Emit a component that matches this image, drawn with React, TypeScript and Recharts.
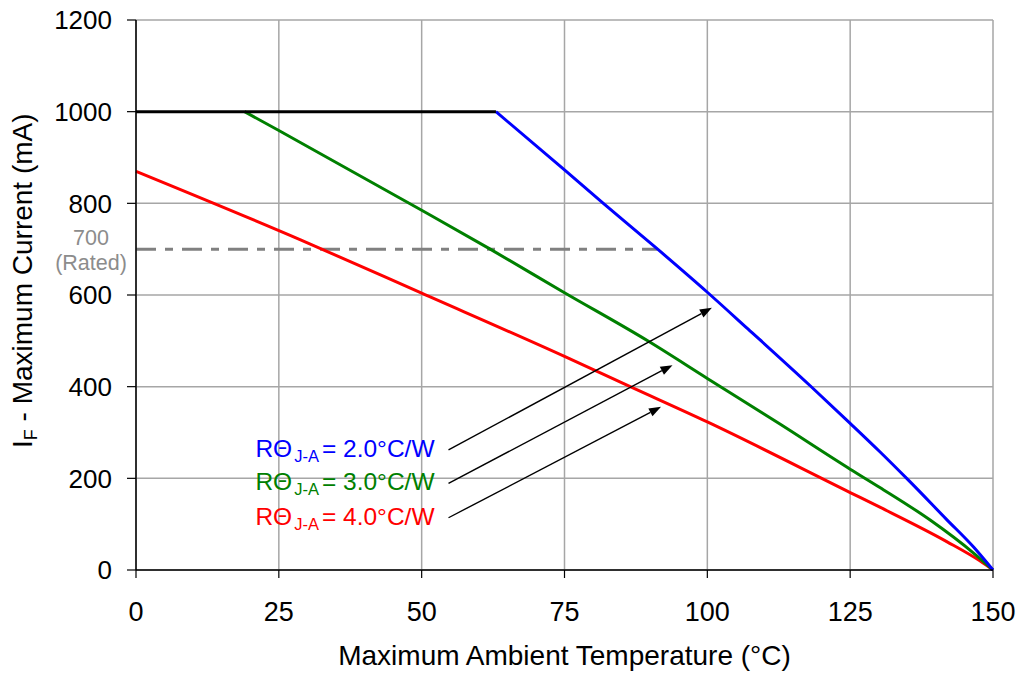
import React from "react"
import { LineChart, Line, XAxis, YAxis, CartesianGrid, ReferenceLine } from "recharts"

const xTicks = [0, 25, 50, 75, 100, 125, 150]
const yTicks = [0, 200, 400, 600, 800, 1000, 1200]

// derating curves
const flatPart = [
  { t: 0, i: 1000 },
  { t: 63, i: 1000 },
]
const rth20 = [
  { t: 63, i: 1000 },
  { t: 75, i: 873 },
  { t: 81.8, i: 800 },
  { t: 91.3, i: 700 },
  { t: 100, i: 606 },
  { t: 107.1, i: 526 },
  { t: 118, i: 402 },
  { t: 125, i: 320 },
  { t: 130.2, i: 258 },
  { t: 135.2, i: 196 },
  { t: 141.9, i: 110 },
  { t: 146.6, i: 50 },
  { t: 150, i: 0 },
]
const rth30 = [
  { t: 19, i: 1000 },
  { t: 25, i: 959 },
  { t: 50, i: 785 },
  { t: 62, i: 700 },
  { t: 75, i: 605 },
  { t: 89.7, i: 499 },
  { t: 100, i: 418 },
  { t: 112.5, i: 320 },
  { t: 125, i: 220 },
  { t: 130.2, i: 180 },
  { t: 139, i: 109 },
  { t: 146.6, i: 37 },
  { t: 150, i: 0 },
]
const rth40 = [
  { t: 0, i: 870 },
  { t: 28.7, i: 721 },
  { t: 50, i: 604 },
  { t: 75, i: 466 },
  { t: 86.5, i: 400 },
  { t: 100, i: 323 },
  { t: 125, i: 169 },
  { t: 130.2, i: 137 },
  { t: 141.9, i: 62 },
  { t: 147.7, i: 20 },
  { t: 150, i: 0 },
]
const rated = 700
const ratedEnd = 91.3

const labels = [
  { value: "2.0°C/W", color: "#0000ff", from: [54.7, 262], to: [100.8, 572] },
  { value: "3.0°C/W", color: "#008000", from: [54.7, 189], to: [93.9, 447] },
  { value: "4.0°C/W", color: "#ff0000", from: [54.7, 114], to: [91.9, 356] },
]

const FONT = "'Liberation Sans', Arial, sans-serif"

function arrowShape(text: string, color: string) {
  return (props: any) => {
    const { x1, y1, x2, y2 } = props
    const ang = Math.atan2(y2 - y1, x2 - x1)
    const len = 12
    const w = 4.5
    const bx = x2 - len * Math.cos(ang)
    const by = y2 - len * Math.sin(ang)
    const px = -Math.sin(ang) * w
    const py = Math.cos(ang) * w
    return (
      <g>
        <line x1={x1} y1={y1} x2={bx} y2={by} stroke="#000" strokeWidth={1.4} />
        <polygon points={`${x2},${y2} ${bx + px},${by + py} ${bx - px},${by - py}`} fill="#000" />
        <text x={x1 - 14} y={y1 + 7} textAnchor="end" fill={color} fontSize={24.5} fontFamily={FONT}>
          <tspan>RΘ</tspan>
          <tspan fontSize={16.5} dx={2} dy={5}>J-A</tspan>
          <tspan dx={3} dy={-5}>= {text}</tspan>
        </text>
      </g>
    )
  }
}

const RatedLabel = (props: any) => {
  const { viewBox } = props
  const x = viewBox.x - 45
  return (
    <text textAnchor="middle" fill="#8c8c8c" fontSize={21.5} fontFamily={FONT}>
      <tspan x={x} y={viewBox.y - 4}>700</tspan>
      <tspan x={x} y={viewBox.y + 20.5}>(Rated)</tspan>
    </text>
  )
}

export default function App() {
  return (
    <div style={{ position: "absolute", left: 0, top: 0, background: "#fff" }}>
      <LineChart width={1020} height={673} margin={{ top: 20, right: 27, bottom: 63, left: 66 }}>
        <CartesianGrid stroke="#a6a6a6" strokeWidth={1.5} />
        <XAxis
          type="number"
          dataKey="t"
          domain={[0, 150]}
          ticks={xTicks}
          height={40}
          axisLine={{ stroke: "#000", strokeWidth: 1.5 }}
          tickLine={{ stroke: "#000", strokeWidth: 1.2 }}
          tickSize={8}
          tick={{ fill: "#000", fontSize: 27, fontFamily: FONT, dy: 22 }}
          label={(p: any) => (
            <text x={p.viewBox.x + p.viewBox.width / 2} y={665} textAnchor="middle" fill="#000" fontSize={28} fontFamily={FONT}>
              Maximum Ambient Temperature (°C)
            </text>
          )}
        />
        <YAxis
          type="number"
          domain={[0, 1200]}
          ticks={yTicks}
          width={70}
          axisLine={{ stroke: "#000", strokeWidth: 1.5 }}
          tickLine={{ stroke: "#000", strokeWidth: 1.2 }}
          tickSize={9}
          tick={{ fill: "#000", fontSize: 26, fontFamily: FONT, dx: -13 }}
          label={() => {
            const cx = 31.5
            const cy = 448
            return (
              <text x={cx} y={cy} transform={`rotate(-90 ${cx} ${cy})`} textAnchor="start" fill="#000" fontSize={28} fontFamily={FONT}>
                <tspan>I</tspan>
                <tspan fontSize={18} dy={5}>F</tspan>
                <tspan dy={-5}> - Maximum Current (mA)</tspan>
              </text>
            )
          }}
        />
        <ReferenceLine
          segment={[{ x: 0, y: rated }, { x: ratedEnd, y: rated }]}
          stroke="#808080"
          strokeWidth={3}
          strokeDasharray="20 9 8 9"
          label={<RatedLabel />}
        />
        <Line data={rth40} dataKey="i" type="monotone" stroke="#ff0000" strokeWidth={3} dot={false} isAnimationActive={false} />
        <Line data={rth30} dataKey="i" type="monotone" stroke="#008000" strokeWidth={3} dot={false} isAnimationActive={false} />
        <Line data={rth20} dataKey="i" type="monotone" stroke="#0000ff" strokeWidth={3} dot={false} isAnimationActive={false} />
        <Line data={flatPart} dataKey="i" type="linear" stroke="#000" strokeWidth={3} dot={false} isAnimationActive={false} />
        {labels.map((l) => (
          <ReferenceLine
            key={l.value}
            segment={[{ x: l.from[0], y: l.from[1] }, { x: l.to[0], y: l.to[1] }]}
            shape={arrowShape(l.value, l.color)}
          />
        ))}
      </LineChart>
    </div>
  )
}
